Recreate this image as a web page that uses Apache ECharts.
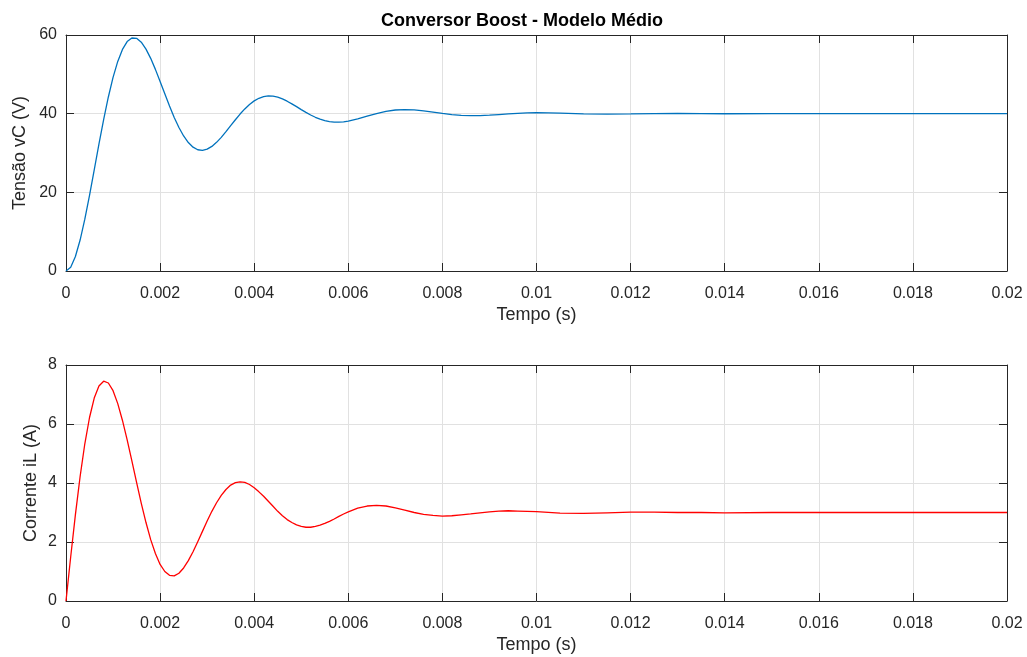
<!DOCTYPE html>
<html>
<head>
<meta charset="utf-8">
<title>Conversor Boost - Modelo Médio</title>
<script src="https://cdn.jsdelivr.net/npm/echarts@6/dist/echarts.min.js"></script>
<style>
  html, body { margin: 0; padding: 0; background: #ffffff; }
  #chart { width: 1027px; height: 657px; }
</style>
</head>
<body>
<div id="chart"></div>
<script>
// Simulated time instants (s)
const tempo = [
  0, 0.0001, 0.0002, 0.0003, 0.0004, 0.0005, 0.0006, 0.0007, 0.0008, 0.0009,
  0.0010, 0.0011, 0.0012, 0.0013, 0.0014, 0.0015, 0.0016, 0.0017, 0.0018, 0.0019,
  0.0020, 0.0021, 0.0022, 0.0023, 0.0024, 0.0025, 0.0026, 0.0027, 0.0028, 0.0029,
  0.0030, 0.0031, 0.0032, 0.0033, 0.0034, 0.0035, 0.0036, 0.0037, 0.0038, 0.0039,
  0.0040, 0.0041, 0.0042, 0.0043, 0.0044, 0.0045, 0.0046, 0.0047, 0.0048, 0.0049,
  0.0050, 0.0051, 0.0052, 0.0053, 0.0054, 0.0055, 0.0056, 0.0057, 0.0058, 0.0059,
  0.0060, 0.0062, 0.0064, 0.0066, 0.0068, 0.0070, 0.0072, 0.0074, 0.0076, 0.0078,
  0.0080, 0.0082, 0.0084, 0.0086, 0.0088, 0.0090, 0.0092, 0.0094, 0.0096, 0.0098,
  0.0100, 0.0105, 0.0110, 0.0115, 0.0120, 0.0125, 0.0130, 0.0135, 0.0140, 0.0150,
  0.0160, 0.0170, 0.0180, 0.0190, 0.0200
];

// Capacitor voltage vC (V)
const tensaoVC = [
  0.00, 0.97, 3.69, 7.87, 13.18, 19.24, 25.71, 32.24, 38.51, 44.24,
  49.23, 53.29, 56.34, 58.32, 59.24, 59.16, 58.17, 56.42, 54.06, 51.26,
  48.20, 45.04, 41.94, 39.05, 36.48, 34.33, 32.65, 31.48, 30.83, 30.68,
  30.98, 31.68, 32.71, 33.98, 35.42, 36.94, 38.46, 39.90, 41.21, 42.34,
  43.25, 43.91, 44.33, 44.50, 44.44, 44.18, 43.74, 43.17, 42.50, 41.78,
  41.04, 40.33, 39.67, 39.08, 38.60, 38.23, 37.98, 37.85, 37.83, 37.92,
  38.10, 38.65, 39.35, 40.03, 40.59, 40.93, 41.05, 40.96, 40.71, 40.38,
  40.05, 39.76, 39.57, 39.49, 39.52, 39.63, 39.78, 39.94, 40.09, 40.19,
  40.24, 40.16, 39.97, 39.88, 39.93, 40.02, 40.06, 40.03, 39.98, 40.00,
  40.00, 40.00, 40.00, 40.00, 40.00
];

// Inductor current iL (A)
const correnteIL = [
  0.00, 1.50, 2.93, 4.22, 5.33, 6.22, 6.88, 7.29, 7.45, 7.39,
  7.13, 6.69, 6.12, 5.46, 4.75, 4.02, 3.31, 2.66, 2.08, 1.61,
  1.24, 1.00, 0.87, 0.85, 0.94, 1.12, 1.37, 1.67, 2.01, 2.36,
  2.71, 3.04, 3.33, 3.58, 3.78, 3.93, 4.01, 4.04, 4.02, 3.95,
  3.84, 3.70, 3.55, 3.38, 3.21, 3.04, 2.89, 2.76, 2.66, 2.58,
  2.53, 2.50, 2.50, 2.53, 2.57, 2.63, 2.70, 2.78, 2.87, 2.95,
  3.02, 3.15, 3.22, 3.24, 3.22, 3.16, 3.08, 3.00, 2.94, 2.90,
  2.88, 2.89, 2.92, 2.95, 2.99, 3.02, 3.05, 3.06, 3.05, 3.04,
  3.03, 2.98, 2.97, 2.99, 3.01, 3.01, 3.00, 3.00, 2.99, 3.00,
  3.00, 3.00, 3.00, 3.00, 3.00
];

// Tick labels
const xTickLabels = ['0', '0.002', '0.004', '0.006', '0.008', '0.01', '0.012', '0.014', '0.016', '0.018', '0.02'];
const vTickLabels = ['0', '20', '40', '60'];
const iTickLabels = ['0', '2', '4', '6', '8'];

const FONT = "'Liberation Sans', Arial, Helvetica, sans-serif";
const AXIS_COLOR = '#262626';
const GRID_COLOR = '#e1e1e1';
const X_STEP = 0.002, V_STEP = 20, I_STEP = 2;

function pair(xs, ys) {
  return xs.map((t, k) => [t, ys[k]]);
}

// Labelled axis with inward ticks and light grid lines
function mainAxis(extra) {
  return Object.assign({
    type: 'value',
    axisLine: { show: true, onZero: false, lineStyle: { color: AXIS_COLOR, width: 1 } },
    axisTick: { show: true, inside: true, length: 8, lineStyle: { color: AXIS_COLOR, width: 1 } },
    splitLine: { show: true, lineStyle: { color: GRID_COLOR, width: 1 } },
    minorTick: { show: false },
    nameMoveOverlap: false,
    nameTextStyle: { color: AXIS_COLOR, fontFamily: FONT, fontSize: 18 }
  }, extra);
}

// Opposite side of the box: edge line with inward ticks, no labels
function mirrorAxis(extra) {
  return Object.assign({
    type: 'value',
    axisLine: { show: true, onZero: false, lineStyle: { color: AXIS_COLOR, width: 1 } },
    axisTick: { show: true, inside: true, length: 8, lineStyle: { color: AXIS_COLOR, width: 1 } },
    splitLine: { show: false },
    axisLabel: { show: false }
  }, extra);
}

const xFmt = v => xTickLabels[Math.round(v / X_STEP)];
const vFmt = v => vTickLabels[Math.round(v / V_STEP)];
const iFmt = v => iTickLabels[Math.round(v / I_STEP)];

const xCommon = { min: 0, max: 0.02, interval: X_STEP };
const xLabel = { color: AXIS_COLOR, fontFamily: FONT, fontSize: 16, margin: 15, formatter: xFmt };

const option = {
  backgroundColor: '#ffffff',
  animation: false,
  title: {
    text: 'Conversor Boost - Modelo Médio',
    left: 517,
    top: 7,
    textAlign: 'center',
    textStyle: { fontFamily: FONT, fontSize: 18, fontWeight: 'bold', color: '#000000' }
  },
  grid: [
    { left: 66, right: 20, top: 35, height: 236, containLabel: false },
    { left: 66, right: 20, top: 365, height: 236, containLabel: false }
  ],
  xAxis: [
    mainAxis(Object.assign({ gridIndex: 0, position: 'bottom', name: 'Tempo (s)', nameLocation: 'middle', nameGap: 35,
      axisLabel: xLabel }, xCommon)),
    mirrorAxis(Object.assign({ gridIndex: 0, position: 'top' }, xCommon)),
    mainAxis(Object.assign({ gridIndex: 1, position: 'bottom', name: 'Tempo (s)', nameLocation: 'middle', nameGap: 35,
      axisLabel: xLabel }, xCommon)),
    mirrorAxis(Object.assign({ gridIndex: 1, position: 'top' }, xCommon))
  ],
  yAxis: [
    mainAxis({ gridIndex: 0, position: 'left', min: 0, max: 60, interval: V_STEP,
      name: 'Tensão vC (V)', nameLocation: 'middle', nameGap: 37,
      axisLabel: { color: AXIS_COLOR, fontFamily: FONT, fontSize: 16, margin: 9, formatter: vFmt } }),
    mirrorAxis({ gridIndex: 0, position: 'right', min: 0, max: 60, interval: V_STEP }),
    mainAxis({ gridIndex: 1, position: 'left', min: 0, max: 8, interval: I_STEP,
      name: 'Corrente iL (A)', nameLocation: 'middle', nameGap: 26,
      axisLabel: { color: AXIS_COLOR, fontFamily: FONT, fontSize: 16, margin: 9, formatter: iFmt } }),
    mirrorAxis({ gridIndex: 1, position: 'right', min: 0, max: 8, interval: I_STEP })
  ],
  series: [
    {
      name: 'vC', type: 'line', xAxisIndex: 0, yAxisIndex: 0,
      data: pair(tempo, tensaoVC), showSymbol: false, smooth: false,
      lineStyle: { color: '#0072BD', width: 1.3 }, itemStyle: { color: '#0072BD' }, z: 5
    },
    {
      name: 'iL', type: 'line', xAxisIndex: 2, yAxisIndex: 2,
      data: pair(tempo, correnteIL), showSymbol: false, smooth: false,
      lineStyle: { color: '#FF0000', width: 1.3 }, itemStyle: { color: '#FF0000' }, z: 5
    }
  ]
};

const chart = echarts.init(document.getElementById('chart'), null, { renderer: 'canvas' });
chart.setOption(option);
</script>
</body>
</html>
